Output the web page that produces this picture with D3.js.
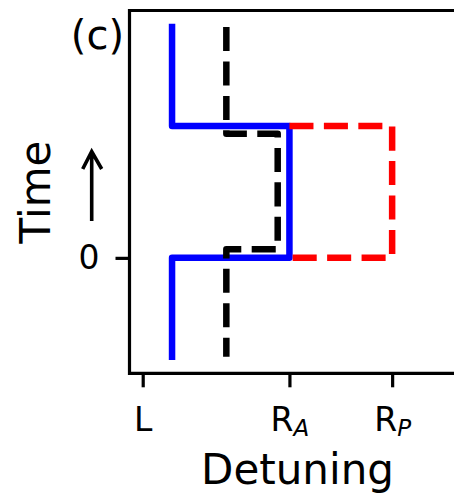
<!DOCTYPE html>
<html>
<head>
<meta charset="utf-8">
<script src="https://cdn.jsdelivr.net/npm/d3@7"></script>
<style>
  body { margin: 0; background: #fff; }
  svg { display: block; font-family: 'DejaVu Sans', sans-serif; }
</style>
</head>
<body>
<svg id="chart" width="454" height="495"></svg>
<script>
// x ticks (detuning), "|" splits off the subscript
const tickNames = ['L', 'R|A', 'R|P'];
const tickDetuning = [0, 1, 1.7];
const timeTicks = [0];

// blue solid step
const blueDetuning = [0.2, 0.2, 1, 1, 0.2, 0.2];
const blueTime = [-0.75, 0, 0, 1, 1, 1.75];

// red dashed box
const redDetuning = [1, 1.7, 1.7, 1];
const redTime = [1, 1, 0, 0];

// black dashed step (starts at the top)
const blackDetuning = [0.57, 0.57, 0.92, 0.92, 0.57, 0.57];
const blackTime = [1.75, 0.94, 0.94, 0.065, 0.065, -0.75];

const plot = { left: 129.5, right: 465.5, top: 10.5, bottom: 373.3 };
const lw = 6.5;
const dash = `${3.7 * lw} ${1.6 * lw}`;

const svg = d3.select('#chart');

const xScale = d3.scaleLinear().domain([-0.09, 2.2]).range([plot.left, plot.right]);
const yScale = d3.scaleLinear().domain([-0.875, 1.875]).range([plot.bottom, plot.top]);

const line = d3.line()
  .x(d => xScale(d[0]))
  .y(d => yScale(d[1]));

const linesDOM = svg.append('g').attr('fill', 'none');

linesDOM.append('path')
  .attr('d', line(d3.zip(blueDetuning, blueTime)))
  .attr('stroke', '#0000ff')
  .attr('stroke-width', lw)
  .attr('stroke-linecap', 'square')
  .attr('stroke-linejoin', 'round');

linesDOM.append('path')
  .attr('d', line(d3.zip(redDetuning, redTime)))
  .attr('stroke', '#ff0000')
  .attr('stroke-width', lw)
  .attr('stroke-dasharray', dash)
  .attr('stroke-linejoin', 'round');

linesDOM.append('path')
  .attr('d', line(d3.zip(blackDetuning, blackTime)))
  .attr('stroke', '#000')
  .attr('stroke-width', lw)
  .attr('stroke-dasharray', dash)
  .attr('stroke-linejoin', 'round');

// axes
const xAxis = d3.axisBottom(xScale).tickValues(tickDetuning).tickSize(14).tickPadding(20).tickFormat('');
const yAxis = d3.axisLeft(yScale).tickValues(timeTicks).tickSize(14).tickPadding(16).tickFormat(d3.format('d'));

const xAxisDOM = svg.append('g')
  .attr('transform', `translate(0,${plot.bottom})`)
  .call(xAxis);
const yAxisDOM = svg.append('g')
  .attr('transform', `translate(${plot.left},0)`)
  .call(yAxis);

[xAxisDOM, yAxisDOM].forEach(g => {
  g.select('.domain').remove();
  g.attr('font-family', null).attr('font-size', 33);
  g.selectAll('.tick line').attr('stroke', '#000').attr('stroke-width', 3.2);
  g.selectAll('.tick text').attr('fill', '#000');
});

xAxisDOM.selectAll('.tick text').each(function(d, i) {
  const [main, sub] = tickNames[i].split('|');
  const text = d3.select(this).text(null);
  text.append('tspan').text(main);
  if (sub) {
    text.append('tspan')
      .attr('dy', 5)
      .attr('font-size', 23)
      .attr('font-style', 'italic')
      .text(sub);
  }
});

// spines (right one falls outside the picture)
svg.append('path')
  .attr('d', `M${plot.right},${plot.top}H${plot.left}V${plot.bottom}H${plot.right}`)
  .attr('fill', 'none')
  .attr('stroke', '#000')
  .attr('stroke-width', 3.2);

// labels
svg.append('text')
  .attr('x', 297.5)
  .attr('y', 484)
  .attr('text-anchor', 'middle')
  .attr('font-size', 42)
  .text('Detuning');

svg.append('text')
  .attr('transform', 'translate(50,192) rotate(-90)')
  .attr('text-anchor', 'middle')
  .attr('font-size', 42)
  .text('Time');

svg.append('path')
  .attr('d', 'M91.7,221V151.5M82.7,169L91.7,151.5L101.7,169')
  .attr('fill', 'none')
  .attr('stroke', '#000')
  .attr('stroke-width', 3.6);

svg.append('text')
  .attr('x', 124)
  .attr('y', 48.7)
  .attr('text-anchor', 'end')
  .attr('font-size', 40)
  .text('(c)');
</script>
</body>
</html>
